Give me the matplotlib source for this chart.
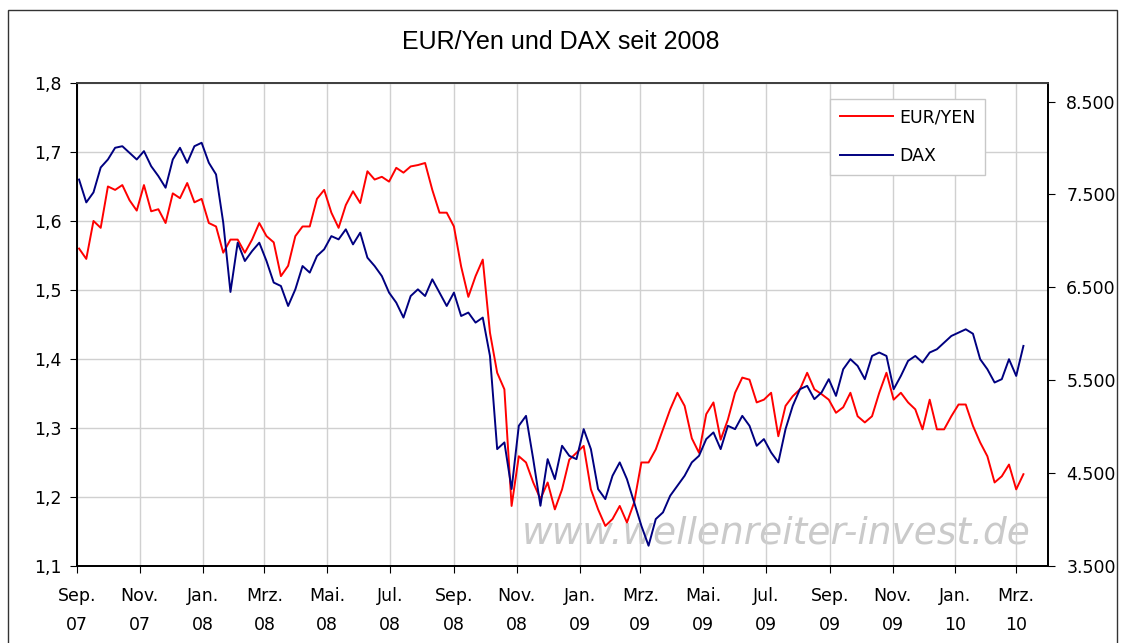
import matplotlib
matplotlib.use("Agg")
import matplotlib.pyplot as plt
from matplotlib.patches import Rectangle
import pandas as pd

plt.rcParams["font.family"] = ["Liberation Sans", "DejaVu Sans"]

# weekly readings, first week of Sep 2007 to early Mar 2010
eur_yen = [
    1.560, 1.545, 1.600, 1.590, 1.650, 1.645, 1.652, 1.630, 1.615, 1.652,
    1.614, 1.617, 1.597, 1.640, 1.633, 1.655, 1.627, 1.632, 1.597, 1.592,
    1.554, 1.573, 1.573, 1.554, 1.573, 1.597, 1.578, 1.569, 1.520, 1.535,
    1.578, 1.592, 1.592, 1.632, 1.645, 1.612, 1.590, 1.623, 1.643, 1.626,
    1.672, 1.660, 1.664, 1.657, 1.677, 1.670, 1.679, 1.681, 1.684, 1.645,
    1.612, 1.612, 1.592, 1.534, 1.490, 1.520, 1.544, 1.438, 1.380, 1.356,
    1.187, 1.259, 1.250, 1.221, 1.197, 1.221, 1.182, 1.211, 1.254, 1.264,
    1.274, 1.211, 1.182, 1.158, 1.168, 1.187, 1.163, 1.192, 1.250, 1.250,
    1.269, 1.298, 1.327, 1.351, 1.332, 1.285, 1.264, 1.320, 1.337, 1.283,
    1.312, 1.351, 1.373, 1.370, 1.337, 1.341, 1.351, 1.288, 1.332, 1.346,
    1.356, 1.380, 1.356, 1.349, 1.341, 1.322, 1.330, 1.351, 1.317, 1.308,
    1.317, 1.351, 1.380, 1.341, 1.351, 1.337, 1.327, 1.298, 1.341, 1.298,
    1.298, 1.317, 1.334, 1.334, 1.303, 1.279, 1.259, 1.221, 1.230, 1.247,
    1.211, 1.233,
]

dax = [
    7660, 7414, 7522, 7790, 7876, 8002, 8019, 7948, 7876, 7966,
    7804, 7697, 7572, 7876, 8002, 7840, 8019, 8056, 7841, 7715,
    7196, 6450, 6980, 6783, 6890, 6980, 6783, 6551, 6514, 6299,
    6478, 6729, 6658, 6837, 6909, 7051, 7016, 7124, 6962, 7088,
    6819, 6729, 6621, 6443, 6335, 6174, 6406, 6478, 6406, 6586,
    6443, 6299, 6443, 6191, 6228, 6120, 6174, 5761, 4758, 4830,
    4328, 5009, 5116, 4650, 4148, 4650, 4435, 4794, 4686, 4650,
    4973, 4758, 4328, 4220, 4471, 4615, 4435, 4185, 3933, 3718,
    4005, 4077, 4256, 4363, 4471, 4615, 4686, 4866, 4938, 4758,
    5009, 4973, 5116, 5009, 4794, 4866, 4722, 4615, 4973, 5224,
    5403, 5439, 5296, 5368, 5511, 5331, 5618, 5726, 5654, 5511,
    5761, 5798, 5761, 5403, 5546, 5708, 5761, 5690, 5798, 5833,
    5905, 5976, 6012, 6048, 6000, 5726, 5618, 5475, 5511, 5726,
    5546, 5869,
]

dates = pd.date_range("2007-09-03", periods=len(eur_yen), freq="7D")

xtick_dates = pd.to_datetime([
    "2007-09-01", "2007-11-01", "2008-01-01", "2008-03-01", "2008-05-01",
    "2008-07-01", "2008-09-01", "2008-11-01", "2009-01-01", "2009-03-01",
    "2009-05-01", "2009-07-01", "2009-09-01", "2009-11-01", "2010-01-01",
    "2010-03-01",
])
xtick_labels = [
    "Sep.\n07", "Nov.\n07", "Jan.\n08", "Mrz.\n08", "Mai.\n08", "Jul.\n08",
    "Sep.\n08", "Nov.\n08", "Jan.\n09", "Mrz.\n09", "Mai.\n09", "Jul.\n09",
    "Sep.\n09", "Nov.\n09", "Jan.\n10", "Mrz.\n10",
]
left_ticks = [1.1, 1.2, 1.3, 1.4, 1.5, 1.6, 1.7, 1.8]
left_labels = ["1,1", "1,2", "1,3", "1,4", "1,5", "1,6", "1,7", "1,8"]
right_ticks = [3500, 4500, 5500, 6500, 7500, 8500]
right_labels = ["3.500", "4.500", "5.500", "6.500", "7.500", "8.500"]

label_font = "DejaVu Sans"
label_size = 12.5

fig = plt.figure(figsize=(11.21, 6.43), dpi=100)
ax = fig.add_axes([0.0687, 0.1198, 0.8663, 0.7512])
ax2 = ax.twinx()

# outer chart frame
fig.patches.append(Rectangle((8 / 1121, -0.05), 1109 / 1121, 1.05 - 10 / 643,
                             transform=fig.transFigure, fill=False,
                             edgecolor="#333333", linewidth=1.0))

fig.text(0.5, 1 - 42 / 643, "EUR/Yen und DAX seit 2008", ha="center",
         va="center", fontsize=18)

ax.text(0.72, 0.068, "www.wellenreiter-invest.de", transform=ax.transAxes,
        ha="center", va="center", fontsize=27, style="italic",
        family="DejaVu Sans", color="#cacaca", zorder=0)

l1, = ax.plot(dates, eur_yen, color="#ff0000", linewidth=1.4, label="EUR/YEN",
              zorder=3)
l2, = ax2.plot(dates, dax, color="#000080", linewidth=1.4, label="DAX")

ax.set_xlim(pd.Timestamp("2007-09-01"), pd.Timestamp("2010-04-01"))
ax.set_ylim(1.1, 1.8)
ax2.set_ylim(3500, 8700)

ax.set_xticks(xtick_dates)
ax.set_xticklabels(xtick_labels, fontsize=label_size, family=label_font,
                   linespacing=1.8)
ax.set_yticks(left_ticks)
ax.set_yticklabels(left_labels, fontsize=label_size, family=label_font)
ax2.set_yticks(right_ticks)
ax2.set_yticklabels(right_labels, fontsize=label_size, family=label_font)

ax.grid(True, color="#d0d0d0", linewidth=1.0)
ax.set_axisbelow(True)

ax.tick_params(axis="x", direction="out", length=5, pad=10, color="black")
ax.tick_params(axis="y", direction="out", length=5, pad=6, color="black")
ax2.tick_params(axis="y", direction="out", length=5, pad=8, color="black")

for a in (ax, ax2):
    for side in ("left", "right", "bottom"):
        a.spines[side].set_color("black")
        a.spines[side].set_linewidth(1.3)
    a.spines["top"].set_color("#404040")
    a.spines["top"].set_linewidth(1.3)

leg = ax2.legend(handles=[l1, l2], loc="upper left",
                 bbox_to_anchor=(0.7755, 0.967), borderaxespad=0,
                 prop={"family": label_font, "size": label_size},
                 handlelength=3.1, handletextpad=0.35,
                 labelspacing=1.2, borderpad=0.55, fancybox=False,
                 framealpha=1, edgecolor="#c8c8c8")
leg.get_frame().set_linewidth(1.0)

fig.savefig("out.png", dpi=100)
